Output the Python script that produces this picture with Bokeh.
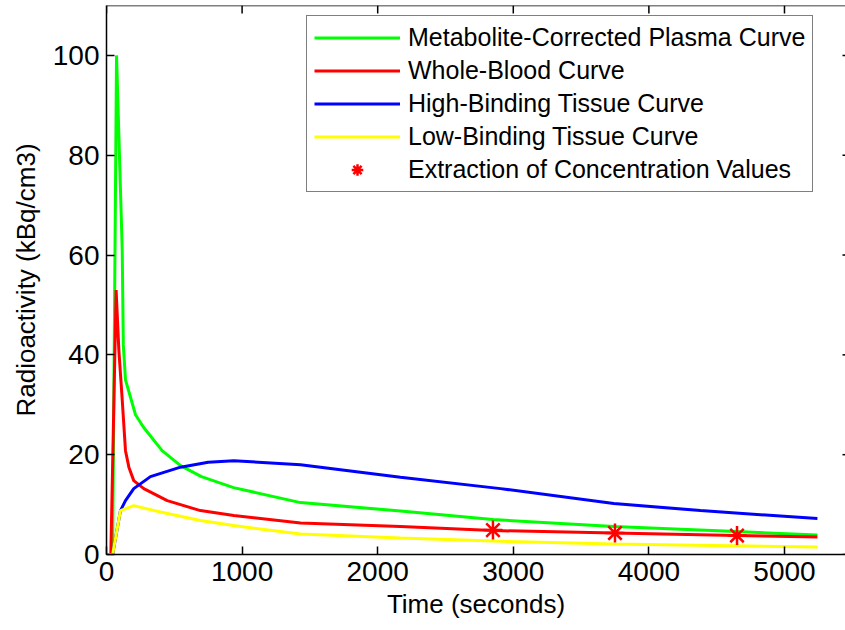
import math
from bokeh.plotting import figure
from bokeh.models import Legend, LegendItem, Range1d, FixedTicker, Span
from bokeh.embed import file_html
from bokeh.resources import INLINE

# ---- data ----
plasma_t = [0, 45, 74, 116, 124, 140, 177, 214, 273, 410, 546, 700, 937, 1431, 2168, 2849, 3741, 4646, 5243]
plasma_v = [0, 0, 100, 61, 42, 35, 31.5, 28, 25.5, 20.8, 17.8, 15.6, 13.4, 10.4, 8.7, 7.0, 5.6, 4.6, 3.9]

blood_t = [0, 32, 71, 91, 116, 140, 165, 201, 275, 448, 693, 939, 1431, 2168, 2849, 3741, 4646, 5243]
blood_v = [0, 0, 53, 41, 31, 20.8, 17.5, 14.8, 13.2, 10.8, 8.8, 7.8, 6.3, 5.6, 4.8, 4.3, 3.8, 3.5]

high_t = [0, 45, 103, 140, 201, 324, 546, 750, 939, 1431, 2168, 2906, 3741, 4380, 5243]
high_v = [0, 0, 8.8, 10.8, 13.2, 15.6, 17.5, 18.5, 18.8, 18.0, 15.5, 13.2, 10.2, 8.8, 7.2]

low_t = [0, 45, 103, 201, 398, 693, 937, 1431, 2168, 2849, 3741, 5243]
low_v = [0, 0, 8.8, 9.8, 8.5, 6.8, 5.8, 4.1, 3.3, 2.7, 2.1, 1.5]

extract_t = [2850, 3750, 4650]
extract_v = [4.9, 4.3, 3.8]

x_ticks = [0, 1000, 2000, 3000, 4000, 5000]
y_ticks = [0, 20, 40, 60, 80, 100]
x_max = 5450
y_max = 110

FONT = "Liberation Sans"

p = figure(width=845, height=630, output_backend="svg", toolbar_location=None,
           x_range=Range1d(0, x_max), y_range=Range1d(0, y_max),
           min_border_left=106, min_border_right=0, min_border_top=5, min_border_bottom=76,
           x_axis_label="Time (seconds)", y_axis_label="Radioactivity (kBq/cm3)")

p.outline_line_color = None
p.xgrid.grid_line_color = None
p.ygrid.grid_line_color = None
p.background_fill_color = "white"
p.border_fill_color = "white"

for ax in [p.xaxis[0], p.yaxis[0]]:
    ax.major_tick_in = 8
    ax.major_tick_out = 0
    ax.minor_tick_in = 0
    ax.minor_tick_out = 0
    ax.axis_line_width = 1.5
    ax.major_tick_line_width = 1.5
    ax.axis_line_color = "black"
    ax.major_tick_line_color = "black"
    ax.major_label_text_font = FONT
    ax.major_label_text_font_size = "28px"
    ax.major_label_text_color = "black"
    ax.axis_label_text_font = FONT
    ax.axis_label_text_font_size = "26px"
    ax.axis_label_text_font_style = "normal"
    ax.axis_label_text_color = "black"

p.xaxis[0].ticker = FixedTicker(ticks=x_ticks)
p.yaxis[0].ticker = FixedTicker(ticks=y_ticks)
p.xaxis[0].major_label_standoff = 7
p.yaxis[0].major_label_standoff = 7
p.xaxis[0].axis_label_standoff = 5
p.yaxis[0].axis_label_standoff = 9

# top border and mirrored ticks (box style)
p.add_layout(Span(location=y_max, dimension="width", line_color="black", line_width=1.5))
p.ray(x=x_ticks, y=[y_max] * len(x_ticks), length=8, length_units="screen",
      angle=-math.pi / 2, line_color="black", line_width=1.5)
p.ray(x=[x_max] * len(y_ticks), y=y_ticks, length=3, length_units="screen",
      angle=math.pi, line_color="black", line_width=1.5)

lw = 3
r_pl = p.line(plasma_t, plasma_v, line_color="#00ff00", line_width=lw)
r_bl = p.line(blood_t, blood_v, line_color="#ff0000", line_width=lw)
r_hi = p.line(high_t, high_v, line_color="#0000ff", line_width=lw)
r_lo = p.line(low_t, low_v, line_color="#ffff00", line_width=lw)
r_ex = p.scatter(extract_t, extract_v, marker="asterisk", size=19, line_color="#ff0000", line_width=2.5)

legend = Legend(items=[
    LegendItem(label="Metabolite-Corrected Plasma Curve", renderers=[r_pl]),
    LegendItem(label="Whole-Blood Curve", renderers=[r_bl]),
    LegendItem(label="High-Binding Tissue Curve", renderers=[r_hi]),
    LegendItem(label="Low-Binding Tissue Curve", renderers=[r_lo]),
    LegendItem(label="Extraction of Concentration Values", renderers=[r_ex]),
], location=(200, 362))
legend.label_text_font = FONT
legend.label_text_font_size = "25px"
legend.label_text_color = "black"
legend.glyph_width = 86
legend.glyph_height = 29
legend.label_height = 29
legend.spacing = 4
legend.padding = 7
legend.margin = 0
legend.label_standoff = 8
legend.border_line_color = "black"
legend.border_line_width = 1.5
legend.background_fill_color = "white"
legend.background_fill_alpha = 1
p.add_layout(legend, "center")

open("out.html", "w").write(file_html(p, INLINE))
